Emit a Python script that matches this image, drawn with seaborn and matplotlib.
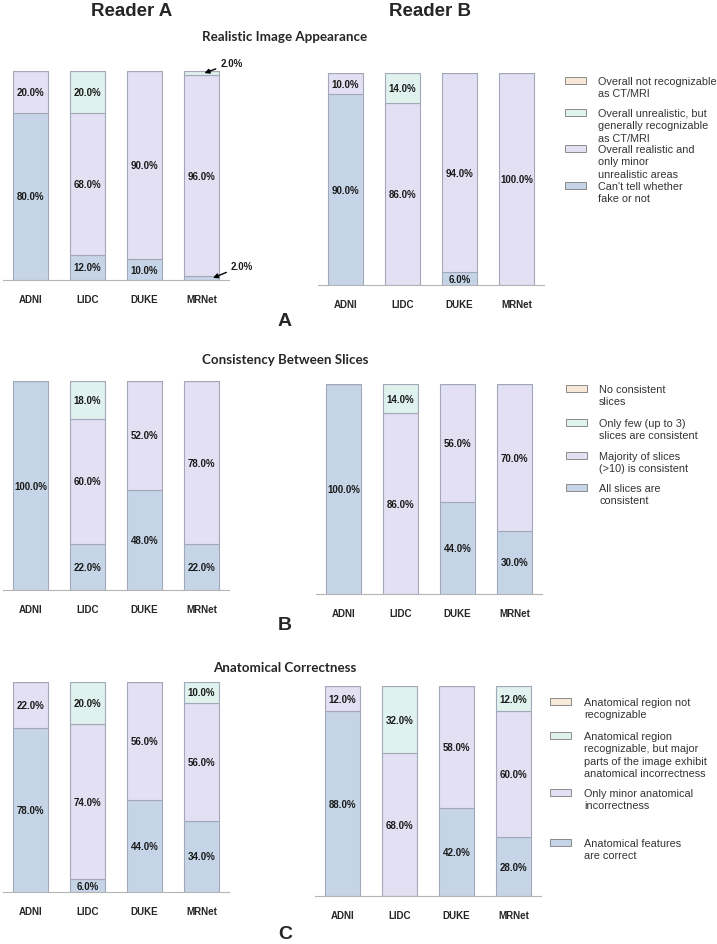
import numpy as np
import pandas as pd
import seaborn as sns
import matplotlib.pyplot as plt
from matplotlib.patches import Rectangle

# datasets on the x axis
datasets = ["ADNI", "LIDC", "DUKE", "MRNet"]

# Realistic image appearance (%), stacked bottom -> top: blue, lavender, mint, peach
real_a_blue = [80, 12, 10, 2]
real_a_lav = [20, 68, 90, 96]
real_a_mint = [0, 20, 0, 2]
real_a_peach = [0, 0, 0, 0]

real_b_blue = [90, 0, 6, 0]
real_b_lav = [10, 86, 94, 100]
real_b_mint = [0, 14, 0, 0]
real_b_peach = [0, 0, 0, 0]

# Consistency between slices (%)
cons_a_blue = [100, 22, 48, 22]
cons_a_lav = [0, 60, 52, 78]
cons_a_mint = [0, 18, 0, 0]
cons_a_peach = [0, 0, 0, 0]

cons_b_blue = [100, 0, 44, 30]
cons_b_lav = [0, 86, 56, 70]
cons_b_mint = [0, 14, 0, 0]
cons_b_peach = [0, 0, 0, 0]

# Anatomical correctness (%)
anat_a_blue = [78, 6, 44, 34]
anat_a_lav = [22, 74, 56, 56]
anat_a_mint = [0, 20, 0, 10]
anat_a_peach = [0, 0, 0, 0]

anat_b_blue = [88, 0, 42, 28]
anat_b_lav = [12, 68, 58, 60]
anat_b_mint = [0, 32, 0, 12]
anat_b_peach = [0, 0, 0, 0]

real_labels = ["Overall not recognizable\nas CT/MRI",
               "Overall unrealistic, but\ngenerally recognizable\nas CT/MRI",
               "Overall realistic and\nonly minor\nunrealistic areas",
               "Can't tell whether\nfake or not"]
cons_labels = ["No consistent\nslices",
               "Only few (up to 3)\nslices are consistent",
               "Majority of slices\n(>10) is consistent",
               "All slices are\nconsistent"]
anat_labels = ["Anatomical region not\nrecognizable",
               "Anatomical region\nrecognizable, but major\nparts of the image exhibit\nanatomical incorrectness",
               "Only minor anatomical\nincorrectness",
               "Anatomical features\nare correct"]

colors = ["#c5d5e7", "#e2e0f2", "#dff2ee", "#f8e8d8"]  # blue, lavender, mint, peach
edge = "#a3a8b8"

sns.set_style("white")
plt.rcParams["font.family"] = ["Liberation Sans", "DejaVu Sans"]

W, H = 717, 945
fig = plt.figure(figsize=(W / 100, H / 100), dpi=100)


def px_axes(x, top, bottom, w=226):
    return fig.add_axes([x / W, 1 - bottom / H, w / W, (bottom - top) / H])


def stacked(ax, layers):
    bottom = np.zeros(len(datasets))
    for vals, col in zip(layers, colors):
        df = pd.DataFrame({"dataset": datasets, "value": vals})
        sns.barplot(data=df, x="dataset", y="value", order=datasets, color=col,
                    width=0.61, bottom=bottom.copy(), edgecolor=edge,
                    linewidth=0.8, saturation=1, ax=ax)
        for i, v in enumerate(vals):
            if v >= 5:
                ax.text(i, bottom[i] + v / 2, f"{v:.1f}%", ha="center", va="center",
                        fontsize=7, fontweight="bold", color="#1a1a1a")
            elif v > 0:
                at_bottom = bottom[i] == 0
                xy = (i + 0.2, v / 2) if at_bottom else (i + 0.05, bottom[i] + v / 2)
                off = (29, 12) if at_bottom else (27, 10)
                ax.annotate(f"{v:.1f}%", xy=xy, xytext=off, textcoords="offset pixels",
                            ha="center", va="center", fontsize=7, fontweight="bold",
                            color="#1a1a1a",
                            arrowprops=dict(arrowstyle="-|>", color="black", lw=1,
                                            mutation_scale=7, shrinkA=1, shrinkB=0))
        bottom += np.array(vals)
    ax.set_xlim(-0.48, 3.48)
    ax.set_ylim(0, 100)
    ax.set_xlabel("")
    ax.set_ylabel("")
    ax.set_yticks([])
    for s in ["left", "right", "top"]:
        ax.spines[s].set_visible(False)
    ax.spines["bottom"].set_color("#b5b5b5")
    ax.spines["bottom"].set_linewidth(0.8)
    ax.tick_params(axis="x", length=2, color="#b5b5b5", pad=8, labelsize=7)
    for lab in ax.get_xticklabels():
        lab.set_fontweight("bold")
    ax.patch.set_alpha(0)


def legend(x_patch, x_text, ys, labels):
    for y, lab, col in zip(ys, labels, colors[::-1]):
        fig.patches.append(Rectangle((x_patch / W, 1 - (y + 3.5) / H), 21 / W, 7 / H,
                                     transform=fig.transFigure, facecolor=col,
                                     edgecolor="#8a8a8a", linewidth=0.7))
        fig.text(x_text / W, 1 - (y - 4) / H, lab, ha="left", va="top",
                 fontsize=7.8, color="#333333", linespacing=1.3)


stacked(px_axes(3, 72, 281), [real_a_blue, real_a_lav, real_a_mint, real_a_peach])
stacked(px_axes(318, 74, 286), [real_b_blue, real_b_lav, real_b_mint, real_b_peach])
stacked(px_axes(3, 382, 591), [cons_a_blue, cons_a_lav, cons_a_mint, cons_a_peach])
stacked(px_axes(316, 385, 595), [cons_b_blue, cons_b_lav, cons_b_mint, cons_b_peach])
stacked(px_axes(3, 683, 893), [anat_a_blue, anat_a_lav, anat_a_mint, anat_a_peach])
stacked(px_axes(315, 687, 897), [anat_b_blue, anat_b_lav, anat_b_mint, anat_b_peach])

legend(565, 598, [81, 113, 149, 186], real_labels)
legend(566, 599, [389, 423, 456, 488], cons_labels)
legend(550, 584, [702, 736, 793, 843], anat_labels)

fig.text(132 / W, 1 - 12 / H, "Reader A", ha="center", va="center", fontsize=13.5, fontweight="bold")
fig.text(430 / W, 1 - 12 / H, "Reader B", ha="center", va="center", fontsize=13.5, fontweight="bold")

for y, t in [(37, "Realistic Image Appearance"), (360, "Consistency Between Slices"),
             (668, "Anatomical Correctness")]:
    fig.text(285 / W, 1 - y / H, t, ha="center", va="center", fontsize=9.6,
             fontweight="bold", family="Lato")

for y, t in [(321, "A"), (626, "B"), (935, "C")]:
    fig.text(285 / W, 1 - y / H, t, ha="center", va="center", fontsize=14, fontweight="bold")

fig.savefig("out.png", dpi=100, facecolor="white")
